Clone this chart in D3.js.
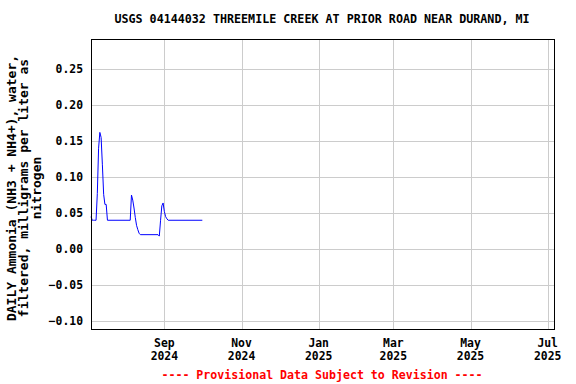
<!DOCTYPE html>
<html>
<head>
<meta charset="utf-8">
<script src="https://cdn.jsdelivr.net/npm/d3@7"></script>
<style>
  body { margin: 0; background: #fff; }
  text { font-family: "DejaVu Sans Mono", monospace; font-weight: bold; }
</style>
</head>
<body>
<svg id="chart"></svg>
<script>
// daily values (mg/L as N)
const dates = [
  '2024-07-05','2024-07-06','2024-07-07','2024-07-08','2024-07-09','2024-07-10','2024-07-11','2024-07-12',
  '2024-07-13','2024-07-14','2024-07-15','2024-07-16','2024-07-17','2024-07-18','2024-08-05','2024-08-06',
  '2024-08-07','2024-08-08','2024-08-09','2024-08-10','2024-08-11','2024-08-12','2024-08-13','2024-08-27',
  '2024-08-28','2024-08-29','2024-08-30','2024-08-31','2024-09-01','2024-09-02','2024-09-03','2024-09-04',
  '2024-10-01'
];
const values = [
  0.045, 0.040, 0.040, 0.040, 0.040, 0.077, 0.140, 0.162,
  0.155, 0.117, 0.076, 0.062, 0.062, 0.040, 0.040, 0.075,
  0.068, 0.057, 0.044, 0.033, 0.027, 0.022, 0.020, 0.020,
  0.018, 0.040, 0.060, 0.064, 0.052, 0.045, 0.042, 0.040,
  0.040
];
const yTicks = [-0.10, -0.05, 0.00, 0.05, 0.10, 0.15, 0.20, 0.25];
const xTicks = ['2024-09-01','2024-11-01','2025-01-01','2025-03-01','2025-05-01','2025-07-01'];

const W = 576, H = 384;
const m = { left: 91, right: 22, top: 39, bottom: 55 };
const parse = d3.timeParse('%Y-%m-%d');

const svg = d3.select('#chart').attr('width', W).attr('height', H);

const x = d3.scaleTime()
  .domain([parse('2024-07-05'), parse('2025-07-06')])
  .range([m.left, W - m.right]);
const y = d3.scaleLinear()
  .domain([-0.111, 0.2917])
  .range([H - m.bottom, m.top]);

// grid
svg.append('g').selectAll('line.h')
  .data(yTicks).enter().append('line')
  .attr('x1', m.left).attr('x2', W - m.right)
  .attr('y1', d => Math.round(y(d)) + 0.5).attr('y2', d => Math.round(y(d)) + 0.5)
  .attr('stroke', '#cccccc');
svg.append('g').selectAll('line.v')
  .data(xTicks).enter().append('line')
  .attr('x1', d => Math.round(x(parse(d))) + 0.5).attr('x2', d => Math.round(x(parse(d))) + 0.5)
  .attr('y1', m.top).attr('y2', H - m.bottom)
  .attr('stroke', '#cccccc');

// data line
const series = dates.map((d, i) => ({ date: parse(d), value: values[i] }));
svg.append('path')
  .datum(series)
  .attr('fill', 'none')
  .attr('stroke', '#0000ff')
  .attr('stroke-width', 1)
  .attr('d', d3.line().x(d => x(d.date)).y(d => y(d.value)));

// frame
svg.append('rect')
  .attr('x', m.left + 0.5).attr('y', m.top + 0.5)
  .attr('width', W - m.left - m.right).attr('height', H - m.top - m.bottom)
  .attr('fill', 'none').attr('stroke', '#000');

// y tick labels
svg.append('g').selectAll('text')
  .data(yTicks).enter().append('text')
  .attr('x', 83).attr('y', d => y(d) + 4)
  .attr('text-anchor', 'end')
  .style('font-size', '11.4px')
  .text(d => d3.format('.2f')(d));

// x tick labels
const xl = svg.append('g').selectAll('text')
  .data(xTicks).enter().append('text')
  .attr('text-anchor', 'middle')
  .style('font-size', '11.4px');
xl.append('tspan')
  .attr('x', d => x(parse(d))).attr('y', 347)
  .text(d => d3.timeFormat('%b')(parse(d)));
xl.append('tspan')
  .attr('x', d => x(parse(d))).attr('y', 360)
  .text(d => d3.timeFormat('%Y')(parse(d)));

// title
svg.append('text')
  .attr('x', 322).attr('y', 23)
  .attr('text-anchor', 'middle')
  .style('font-size', '11.7px')
  .text('USGS 04144032 THREEMILE CREEK AT PRIOR ROAD NEAR DURAND, MI');

// y axis label
const yl = svg.append('text')
  .attr('transform', 'translate(0,188) rotate(-90)')
  .attr('text-anchor', 'middle')
  .style('font-size', '13px');
['DAILY Ammonia (NH3 + NH4+), water,', 'filtered, milligrams per liter as', 'nitrogen']
  .forEach((t, i) => yl.append('tspan').attr('x', 0).attr('y', 16 + i * 12.3).text(t));

// provisional note
svg.append('text')
  .attr('x', 322).attr('y', 379)
  .attr('text-anchor', 'middle')
  .style('font-size', '11.6px')
  .attr('fill', '#ff0000')
  .text('---- Provisional Data Subject to Revision ----');
</script>
</body>
</html>
